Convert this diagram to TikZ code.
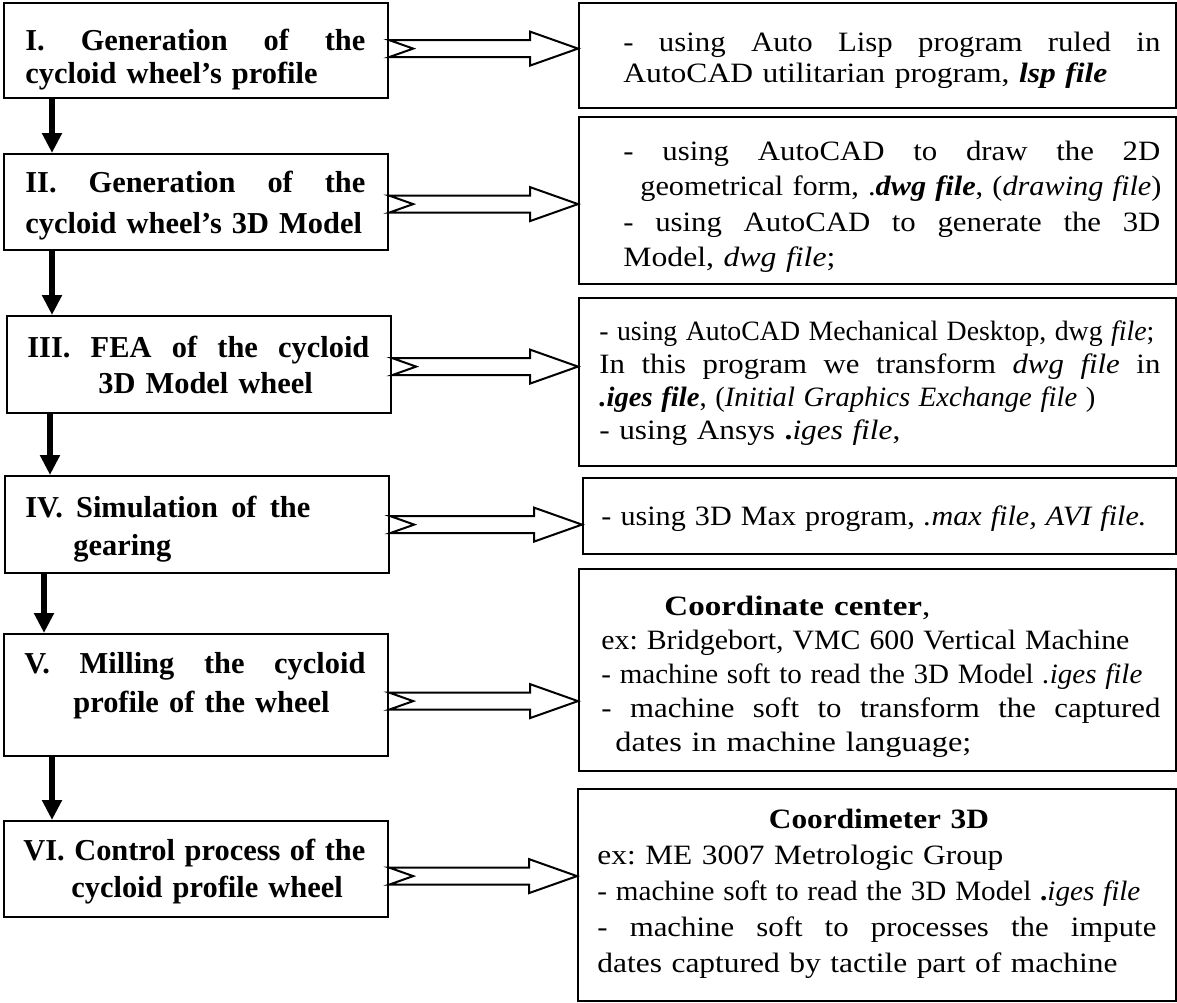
\documentclass[tikz,border=0pt]{standalone}
\usepackage{fontspec}
\usepackage{graphicx}
\setmainfont{Liberation Serif}
\newfontfamily\rfont{Liberation Serif}[FakeStretch=1.1]
\usetikzlibrary{arrows.meta,calc}
\frenchspacing
\tikzset{
  box/.style={draw, line width=1.1pt, rectangle, inner sep=0pt, anchor=north west},
  ltext/.style={anchor=base west, inner sep=0pt, align=left, text width=175pt},
  rtext/.style={anchor=base west, inner sep=0pt, align=left, text width=285pt},
  harrow/.style={draw, fill=white, line width=1pt, line join=miter},
  downarrow/.style={line width=2.8pt, -{Triangle[width=9.5pt,length=10pt]}},
}
% a line spread to a given width
\newcommand{\spr}[2]{{\spaceskip=0.25em plus 1fil\relax\makebox[#1][s]{#2}}}
% a line set to a given width
\newcommand{\fitw}[2]{\resizebox{#1}{\height}{\mbox{#2}}}
\newcommand{\bfi}[1]{\textbf{\textit{#1}}}
\newcommand{\hollowarrow}[3]{%
  \path[harrow] let \p1=(#1.east), \p2=(#2.west) in
    (\x1,\y1+#3+4.25pt) -- (\x2-24pt,\y1+#3+4.25pt) -- (\x2-24pt,\y1+#3+8.5pt)
    -- (\x2,\y1+#3) -- (\x2-24pt,\y1+#3-8.5pt) -- (\x2-24pt,\y1+#3-4.25pt)
    -- (\x1,\y1+#3-4.25pt) -- (\x1+12pt,\y1+#3) -- cycle;}
\begin{document}
\begin{tikzpicture}[x=0.5pt,y=-0.5pt]
\useasboundingbox (0,0) rectangle (1177,1002);

% left boxes
\node[box, minimum width=192pt, minimum height=47.5pt] (L1) at (3,2) {};
\node[box, minimum width=192pt, minimum height=48pt]   (L2) at (3,153) {};
\node[box, minimum width=192pt, minimum height=48.5pt] (L3) at (6,315) {};
\node[box, minimum width=192pt, minimum height=48.5pt] (L4) at (4,475) {};
\node[box, minimum width=192pt, minimum height=61pt]   (L5) at (3,633) {};
\node[box, minimum width=192pt, minimum height=48pt]   (L6) at (3,820) {};

% right boxes
\node[box, minimum width=298.5pt, minimum height=52.5pt] (R1) at (578,2) {};
\node[box, minimum width=298.5pt, minimum height=83.5pt] (R2) at (578,116) {};
\node[box, minimum width=298.5pt, minimum height=84pt]   (R3) at (578,297) {};
\node[box, minimum width=296.5pt, minimum height=38pt]   (R4) at (582,477) {};
\node[box, minimum width=298.5pt, minimum height=101pt]  (R5) at (578,568) {};
\node[box, minimum width=299pt,   minimum height=106pt]  (R6) at (577,788) {};

% left texts
\node[ltext, font=\bfseries\fontsize{15.2}{16.5}\selectfont] (t1) at (25,50)
  {\spr{170pt}{I. Generation of the}\\ \mbox{cycloid wheel's profile}};
\node[ltext, font=\bfseries\fontsize{15.2}{20.5}\selectfont] (t2) at (25,192)
  {\spr{170pt}{II. Generation of the}\\ \mbox{cycloid wheel's 3D Model}};
\node[ltext, font=\bfseries\fontsize{15.2}{18}\selectfont] (t3) at (27,357)
  {\spr{171pt}{III. FEA of the cycloid}\\ \mbox{\hspace*{35.5pt}3D Model wheel}};
\node[ltext, font=\bfseries\fontsize{15.2}{19}\selectfont] (t4) at (25,517)
  {\spr{142.5pt}{IV. Simulation of the}\\ \mbox{\hspace*{24pt}gearing}};
\node[ltext, font=\bfseries\fontsize{15.2}{19.5}\selectfont] (t5) at (24,673)
  {\spr{170.5pt}{V. Milling the cycloid}\\ \mbox{\hspace*{24.5pt}profile of the wheel}};
\node[ltext, font=\bfseries\fontsize{15.2}{18.5}\selectfont] (t6) at (23,860)
  {\spr{171pt}{VI. Control process of the}\\ \mbox{\hspace*{24pt}cycloid profile wheel}};

% right texts
\node[rtext, font=\rfont\fontsize{14}{15.5}\selectfont] (s1) at (623,51)
  {\spr{268.5pt}{- using Auto Lisp program ruled in}\\
   \fitw{242pt}{AutoCAD utilitarian program, \bfi{lsp file}}};
\node[rtext, font=\rfont\fontsize{14}{17.75}\selectfont] (s2) at (623,160)
  {\spr{268.5pt}{- using AutoCAD to draw the 2D}\\
   \mbox{\hspace*{8.5pt}\fitw{260.5pt}{geometrical form, .\bfi{dwg file}, (\textit{drawing file})}}\\
   \spr{268.5pt}{- using AutoCAD to generate the 3D}\\
   \fitw{106pt}{Model, \textit{dwg file};}};
\node[rtext, font=\rfont\fontsize{14}{16.5}\selectfont] (s3) at (599,340)
  {\fitw{277.5pt}{- using AutoCAD Mechanical Desktop, dwg \textit{file};}\\
   \spr{280.5pt}{In this program we transform \textit{dwg file} in}\\
   \fitw{248pt}{\bfi{.iges file}, (\textit{Initial Graphics Exchange file} )}\\
   \fitw{150.5pt}{- using Ansys \textbf{.}\textit{iges file},}};
\node[rtext, font=\rfont\fontsize{14}{17}\selectfont] (s4) at (601,525)
  {\fitw{272.5pt}{- using 3D Max program, \textit{.max file, AVI file.}}};
\node[rtext, font=\rfont\fontsize{14}{17}\selectfont] (s5) at (601,615)
  {\mbox{\hspace*{31.5pt}\fitw{133pt}{\textbf{Coordinate center},}}\\
   \fitw{264pt}{ex: Bridgebort, VMC 600 Vertical Machine}\\
   \fitw{270.5pt}{- machine soft to read the 3D Model \textit{.iges file}}\\
   \spr{279.5pt}{- machine soft to transform the captured}\\
   \mbox{\hspace*{7pt}\fitw{178pt}{dates in machine language;}}};
\node[rtext, font=\rfont\fontsize{14}{18}\selectfont] (s6) at (597,828)
  {\makebox[281.5pt]{\fitw{110pt}{\textbf{Coordimeter 3D}}}\\
   \fitw{203pt}{ex: ME 3007 Metrologic Group}\\
   \fitw{271.5pt}{- machine soft to read the 3D Model \textbf{.}\textit{iges file}}\\
   \spr{279.5pt}{- machine soft to processes the impute}\\
   \fitw{260pt}{dates captured by tactile part of machine}};

% down arrows
\coordinate (d1) at ([xshift=24.5pt]L1.south west);
\coordinate (d2) at ([xshift=24.5pt]L2.south west);
\coordinate (d3) at ([xshift=22pt]L3.south west);
\coordinate (d4) at ([xshift=20pt]L4.south west);
\coordinate (d5) at ([xshift=24.5pt]L5.south west);
\draw[downarrow] (d1) -- (d1 |- L2.north);
\draw[downarrow] (d2) -- (d2 |- L3.north);
\draw[downarrow] (d3) -- (d3 |- L4.north);
\draw[downarrow] (d4) -- (d4 |- L5.north);
\draw[downarrow] (d5) -- (d5 |- L6.north);

% hollow arrows
\hollowarrow{L1}{R1}{1pt}
\hollowarrow{L2}{R2}{-1pt}
\hollowarrow{L3}{R3}{-1pt}
\hollowarrow{L4}{R4}{0pt}
\hollowarrow{L5}{R5}{-3pt}
\hollowarrow{L6}{R6}{-3.5pt}
\end{tikzpicture}
\end{document}
